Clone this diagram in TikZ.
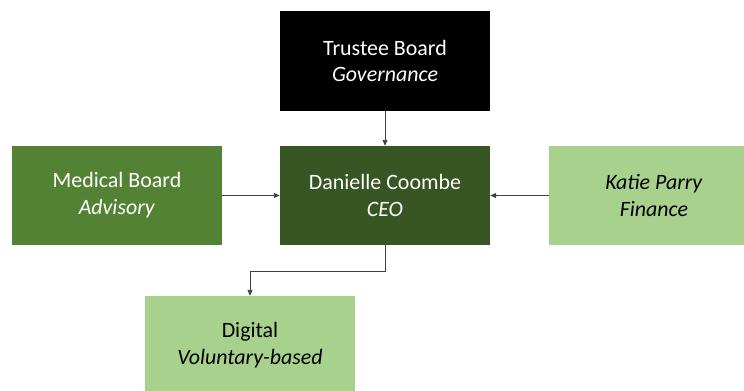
\documentclass[tikz,border=0pt]{standalone}
\usepackage{fontspec}
\setmainfont{Carlito}
\usetikzlibrary{arrows.meta}
\definecolor{midgreen}{HTML}{548235}
\definecolor{darkgreen}{HTML}{375623}
\definecolor{lightgreen}{HTML}{A9D18E}
\definecolor{linegray}{HTML}{404040}
\tikzset{
    unit/.style={minimum width=210bp, minimum height=99bp, inner sep=0pt, align=center,
        font=\fontsize{22}{27}\selectfont},
    link/.style={draw=linegray, line width=0.9bp, -{Triangle[length=6bp,width=5bp]}}
}
\begin{document}
\begin{tikzpicture}[x=1bp,y=1bp]
        \useasboundingbox (0,0) rectangle (744,390);
        \clip (0,0) rectangle (744,390);

        % top
        \node[unit,fill=black,text=white] at (385,329) (trustee) {Trustee Board\\\textit{Governance}};

        % middle row
        \node[unit,fill=midgreen,text=white] at (117,194.5) (medical) {Medical Board\\\textit{Advisory}};
        \node[unit,fill=darkgreen,text=white] at (385,194.5) (ceo) {Danielle Coombe\\\textit{CEO}};
        \node[unit,fill=lightgreen,text=black] at (654,194.5) (finance) {\textit{Katie Parry}\\\textit{Finance}};

        % bottom
        \node[unit,fill=lightgreen,text=black] at (250,44.5) (digital) {Digital\\\textit{Voluntary-based}};

        % links
        \draw[link] (trustee) -- (ceo);
        \draw[link] (medical) -- (ceo);
        \draw[link] (finance) -- (ceo);
        \coordinate (bend) at (385,119);
        \draw[link] (ceo.south) -- (bend) -| (digital.north);
    \end{tikzpicture}
\end{document}
